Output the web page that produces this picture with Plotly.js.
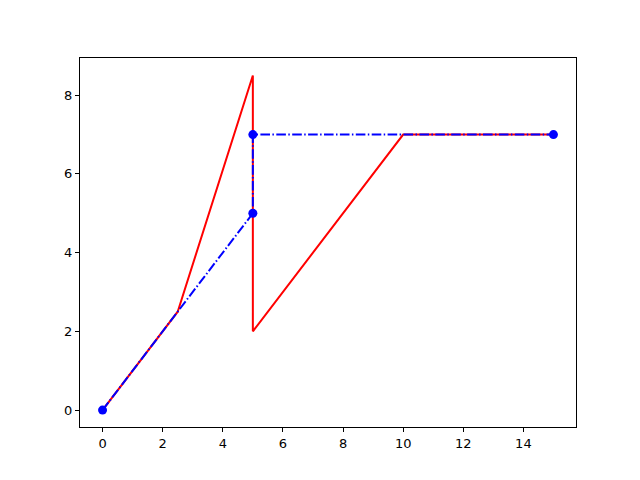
<!DOCTYPE html>
<html>
<head>
<meta charset="utf-8">
<script src="https://cdn.plot.ly/plotly-3.0.1.min.js"></script>
<style>html,body{margin:0;padding:0;background:#fff;}#chart{width:640px;height:480px;}</style>
</head>
<body>
<div id="chart"></div>
<script>
const redX = [0, 2.5, 5, 5, 10, 15];
const redY = [0, 2.5, 8.5, 2, 7, 7];
const blueX = [0, 5, 5, 15];
const blueY = [0, 5, 7, 7];
const xTicks = [0, 2, 4, 6, 8, 10, 12, 14];
const yTicks = [0, 2, 4, 6, 8];

const traces = [
  {x: redX, y: redY, type: 'scatter', mode: 'lines',
   line: {color: '#ff0000', width: 2}, hoverinfo: 'skip'},
  {x: blueX, y: blueY, type: 'scatter', mode: 'lines+markers',
   line: {color: '#0000ff', width: 2, dash: '9.6px,2.4px,1.5px,2.4px'},
   marker: {color: '#0000ff', size: 9}, hoverinfo: 'skip'}
];

const axisCommon = {
  showgrid: false, zeroline: false, showline: true, mirror: true,
  linecolor: '#000', linewidth: 1, ticks: 'outside', ticklen: 4, tickwidth: 1,
  tickcolor: '#000', tickfont: {family: 'DejaVu Sans', size: 13, color: '#000'}
};

const layout = {
  width: 640, height: 480,
  margin: {l: 80, r: 64, t: 58, b: 53},
  paper_bgcolor: '#fff', plot_bgcolor: '#fff',
  showlegend: false,
  xaxis: Object.assign({}, axisCommon, {range: [-0.75, 15.75], tickmode: 'array', tickvals: xTicks}),
  yaxis: Object.assign({}, axisCommon, {range: [-0.43, 8.945], tickmode: 'array', tickvals: yTicks})
};

Plotly.newPlot('chart', traces, layout, {displayModeBar: false, staticPlot: true});
</script>
</body>
</html>
